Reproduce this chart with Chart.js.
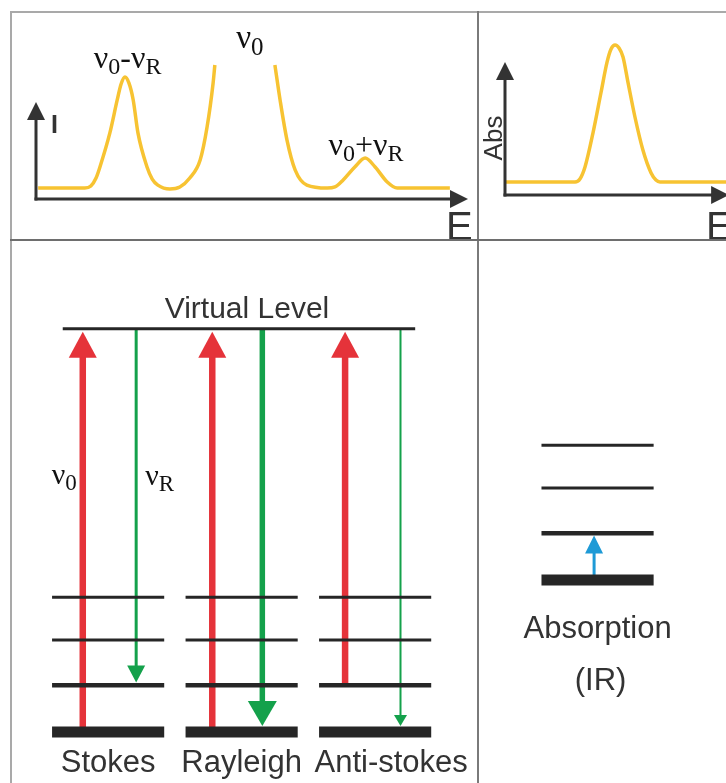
<!DOCTYPE html>
<html>
<head>
<meta charset="utf-8">
<script src="https://cdn.jsdelivr.net/npm/chart.js@4.4.1/dist/chart.umd.min.js"></script>
<style>
  html, body { margin: 0; padding: 0; background: #fff; }
  #stage { position: relative; width: 726px; height: 783px; overflow: hidden; background: #fff; }
  #stage canvas { position: absolute; }
  .rule { position: absolute; z-index: 5; }
</style>
</head>
<body>
<div id="stage">
  <canvas id="raman" width="479" height="240" style="left:0px;top:0px"></canvas>
  <canvas id="ir" width="247" height="240" style="left:479px;top:0px"></canvas>
  <canvas id="levels" width="479" height="543" style="left:0px;top:240px"></canvas>
  <canvas id="irLevels" width="247" height="543" style="left:479px;top:240px"></canvas>
  <div class="rule" style="left:10px;top:11px;width:716px;height:2px;background:#a9a9a9"></div>
  <div class="rule" style="left:10px;top:11px;width:2px;height:772px;background:#a9a9a9"></div>
  <div class="rule" style="left:477px;top:11px;width:2px;height:772px;background:#7a7a7a"></div>
  <div class="rule" style="left:10px;top:239px;width:716px;height:2px;background:#6e6e6e"></div>
</div>
<script>
// Raman spectrum: energy (a.u.) vs intensity (a.u.); the Rayleigh line runs off scale
const ramanE = [0.5, 11.3, 12.7, 13.9, 14.8, 17.1, 18.8, 19.7, 20.6, 21.5, 22.5, 23.6, 25.7,
                26.9, 28.2, 31.0, 33.3, 35.6, 38.0, 39.6, 41.0, 41.4, 48.4, 55.3, 56.5, 58.1,
                60.0, 62.7, 67.4, 69.2, 71.1, 73.8, 76.2, 78.5, 81.3, 83.6, 95.8];
const ramanI = [8.2, 8.2, 9.7, 15.7, 23.9, 49.3, 73.9, 85.8, 91.0, 86.6, 73.9, 49.3, 23.9,
                14.9, 10.4, 7.5, 9.0, 15.7, 29.1, 53.7, 86.6, 100, null, 100, 73.9, 44.0,
                21.6, 10.4, 8.2, 9.0, 14.2, 23.9, 30.6, 23.9, 12.7, 8.2, 8.2];

// IR absorption spectrum
const irE = [0, 31.7, 33.9, 36.2, 39.8, 43.4, 46.2, 48.0, 49.8, 51.6, 53.4, 55.7, 58.8,
             62.4, 66.1, 68.3, 70.1, 100];
const irA = [8.7, 8.7, 10.7, 18.7, 41.3, 68, 88.7, 97.3, 100, 98, 92, 74.7, 52,
             30, 14.7, 10, 8.7, 8.7];

// peak labels (text, energy, height)
const peakLabels = ['ν0-νR', 'ν0', 'ν0+νR'];
const peakLabelE = [21.2, 49.5, 76.4];
const peakLabelI = [97.8, 112.7, 32.8];

// energy level diagram
const processes = ['Stokes', 'Rayleigh', 'Anti-stokes'];
const levelEnergy = [0, 1.03, 2.02, 2.96];   // vibrational levels v=0..3
const virtualEnergy = 8.86;
const excitedFrom = [0, 0, 1];               // level the laser photon starts from
const scatteredTo = [1, 0, 0];               // level reached after scattering
const irTransition = [0, 1];                 // IR absorption v=0 -> v=1

const INK = '#262626';
const TEXT = '#333333';
const YELLOW = '#F7C332';
const RED = '#E5333A';
const GREEN = '#14A14B';
const BLUE = '#1E9AD6';
const SANS = '"Liberation Sans", Arial, sans-serif';
const SERIF = '"Liberation Serif", "Times New Roman", serif';
const LEVEL_W = [11, 4.5, 3, 3];

function drawArrow(ctx, x1, y1, x2, y2, width, headW, headL, color) {
    const ang = Math.atan2(y2 - y1, x2 - x1);
    const c = Math.cos(ang), s = Math.sin(ang);
    const bx = x2 - c * headL, by = y2 - s * headL;
    ctx.save();
    ctx.strokeStyle = color;
    ctx.fillStyle = color;
    ctx.lineWidth = width;
    ctx.lineCap = 'butt';
    ctx.beginPath();
    ctx.moveTo(x1, y1);
    ctx.lineTo(bx + c, by + s);
    ctx.stroke();
    ctx.beginPath();
    ctx.moveTo(x2, y2);
    ctx.lineTo(bx - s * headW, by + c * headW);
    ctx.lineTo(bx + s * headW, by - c * headW);
    ctx.closePath();
    ctx.fill();
    ctx.restore();
}

// text like "ν0-νR": the character after each ν is a subscript
function drawNu(ctx, str, x, y, size, align) {
    const subSize = Math.round(size * 0.75);
    const parts = [];
    let total = 0;
    for (let i = 0; i < str.length; i++) {
        const sub = i > 0 && str[i - 1] === 'ν';
        ctx.font = (sub ? subSize : size) + 'px ' + SERIF;
        const w = ctx.measureText(str[i]).width;
        parts.push({ t: str[i], sub: sub, w: w });
        total += w;
    }
    let cx = align === 'center' ? x - total / 2 : align === 'right' ? x - total : x;
    ctx.save();
    ctx.fillStyle = '#111';
    ctx.textAlign = 'left';
    ctx.textBaseline = 'alphabetic';
    parts.forEach(p => {
        ctx.font = (p.sub ? subSize : size) + 'px ' + SERIF;
        ctx.fillText(p.t, cx, y + (p.sub ? size * 0.2 : 0));
        cx += p.w;
    });
    ctx.restore();
}

function text(ctx, str, x, y, size, align) {
    ctx.save();
    ctx.fillStyle = TEXT;
    ctx.font = size + 'px ' + SANS;
    ctx.textAlign = align || 'center';
    ctx.textBaseline = 'alphabetic';
    ctx.fillText(str, x, y);
    ctx.restore();
}

// axes with arrow tips for the two spectra
function spectrumAxes(xTip, yTip) {
    return {
        id: 'spectrumAxes',
        afterDatasetsDraw(chart) {
            const { ctx, chartArea: a, scales: { x, y } } = chart;
            drawArrow(ctx, a.left - 1.5, a.bottom, x.getPixelForValue(xTip), a.bottom, 3, 9, 18, '#333');
            drawArrow(ctx, a.left, a.bottom + 1.5, a.left, y.getPixelForValue(yTip), 3, 9, 18, '#333');
        }
    };
}

function baseOptions(padding, xr, yr) {
    return {
        responsive: false,
        animation: false,
        events: [],
        layout: { padding: padding },
        scales: {
            x: { type: 'linear', min: xr[0], max: xr[1], display: false },
            y: { type: 'linear', min: yr[0], max: yr[1], display: false }
        },
        plugins: { legend: { display: false }, tooltip: { enabled: false } }
    };
}

function curve(xs, ys) {
    return {
        data: xs.map((e, i) => ({ x: e, y: ys[i] })),
        borderColor: YELLOW,
        borderWidth: 3.5,
        pointRadius: 0,
        cubicInterpolationMode: 'monotone',
        spanGaps: false,
        clip: 4
    };
}

// ---- Raman spectrum
new Chart(document.getElementById('raman'), {
    type: 'line',
    data: { datasets: [curve(ramanE, ramanI)] },
    options: baseOptions({ left: 36, right: 11, top: 65, bottom: 41 }, [0, 100], [0, 100]),
    plugins: [spectrumAxes(100, 72.4), {
        id: 'ramanText',
        afterDraw(chart) {
            const { ctx, chartArea: a, scales: { x, y } } = chart;
            ctx.save();
            ctx.fillStyle = TEXT;
            ctx.font = 'bold 25px ' + SANS;
            ctx.fillText('I', a.left + 15, 133);
            ctx.font = '40px ' + SANS;
            ctx.fillText('E', a.right - 22, 240);
            ctx.restore();
            peakLabels.forEach((s, i) => {
                drawNu(ctx, s, x.getPixelForValue(peakLabelE[i]), y.getPixelForValue(peakLabelI[i]), i === 1 ? 33 : 32, 'center');
            });
        }
    }]
});

// ---- IR absorption spectrum
new Chart(document.getElementById('ir'), {
    type: 'line',
    data: { datasets: [curve(irE, irA)] },
    options: baseOptions({ left: 26, right: 0, top: 45, bottom: 45 }, [0, 100], [0, 100]),
    plugins: [spectrumAxes(101.4, 88.7), {
        id: 'irText',
        afterDraw(chart) {
            const { ctx, chartArea: a } = chart;
            ctx.save();
            ctx.fillStyle = TEXT;
            ctx.font = '40px ' + SANS;
            ctx.fillText('E', 227, 240);
            ctx.translate(a.left - 3, 138);
            ctx.rotate(-Math.PI / 2);
            ctx.font = '26px ' + SANS;
            ctx.textAlign = 'center';
            ctx.fillText('Abs', 0, 0);
            ctx.restore();
        }
    }]
});

// ---- level diagrams
function levelSets(columns) {
    const sets = [];
    columns.forEach(c => {
        levelEnergy.forEach((e, l) => {
            sets.push({
                data: [{ x: c - 0.42, y: e }, { x: c + 0.42, y: e }],
                borderColor: INK, borderWidth: LEVEL_W[l], pointRadius: 0, clip: 8
            });
        });
    });
    return sets;
}

function arrowPlugin(arrows) {
    return {
        id: 'transitions',
        beforeDatasetsDraw(chart) {
            const { ctx, scales: { x, y } } = chart;
            arrows.forEach(a => {
                const px = x.getPixelForValue(a.x);
                const y1 = y.getPixelForValue(a.from);
                let y2 = y.getPixelForValue(a.to);
                y2 += (y2 > y1 ? -1 : 1) * a.inset;
                drawArrow(ctx, px, y1, px, y2, a.width, a.head[0], a.head[1], a.color);
            });
        }
    };
}

const redX = [-0.19, -0.22, -0.225];
const greenX = [0.21, 0.155, 0.19];
const greenW = [3, 5.5, 2];
const greenHead = [[9, 17], [14.5, 25], [6.5, 11]];
const ramanArrows = [];
processes.forEach((p, i) => {
    ramanArrows.push({ x: i + redX[i], from: levelEnergy[excitedFrom[i]], to: virtualEnergy,
        inset: 3, width: 6.5, head: [14, 26], color: RED });
    ramanArrows.push({ x: i + greenX[i], from: virtualEnergy, to: levelEnergy[scatteredTo[i]],
        inset: LEVEL_W[scatteredTo[i]] / 2 + 0.5, width: greenW[i], head: greenHead[i], color: GREEN });
});

const ramanLevelSets = levelSets([0, 1, 2]);
ramanLevelSets.push({
    data: [{ x: -0.34, y: virtualEnergy }, { x: 2.3, y: virtualEnergy }],
    borderColor: INK, borderWidth: 3, pointRadius: 0
});

new Chart(document.getElementById('levels'), {
    type: 'line',
    data: { datasets: ramanLevelSets },
    options: baseOptions(0, [-0.81, 2.778], [-1.12, 10.81]),
    plugins: [arrowPlugin(ramanArrows), {
        id: 'levelText',
        afterDraw(chart) {
            const { ctx, scales: { x, y } } = chart;
            const vy = y.getPixelForValue(virtualEnergy);
            text(ctx, 'Virtual Level', x.getPixelForValue(1.04), vy - 11, 30);
            const nameShift = [0, 0, 16];
            processes.forEach((p, i) => text(ctx, p, x.getPixelForValue(i) + nameShift[i], 532, 31));
            const ly = y.getPixelForValue(5.45);
            drawNu(ctx, 'ν0', x.getPixelForValue(redX[0]) - 6, ly, 30, 'right');
            drawNu(ctx, 'νR', x.getPixelForValue(greenX[0]) + 9, ly + 1, 30, 'left');
        }
    }]
});

new Chart(document.getElementById('irLevels'), {
    type: 'line',
    data: { datasets: levelSets([0]) },
    options: baseOptions(0, [-0.888, 0.962], [-4.461, 7.473]),
    plugins: [arrowPlugin([{ x: -0.026, from: levelEnergy[irTransition[0]], to: levelEnergy[irTransition[1]],
        inset: LEVEL_W[irTransition[1]] / 2, width: 3, head: [9, 18], color: BLUE }]), {
        id: 'irLevelText',
        afterDraw(chart) {
            const { ctx, scales: { x } } = chart;
            text(ctx, 'Absorption', x.getPixelForValue(0), 398, 31);
            text(ctx, '(IR)', x.getPixelForValue(0) + 3, 450, 31);
        }
    }]
});
</script>
</body>
</html>
